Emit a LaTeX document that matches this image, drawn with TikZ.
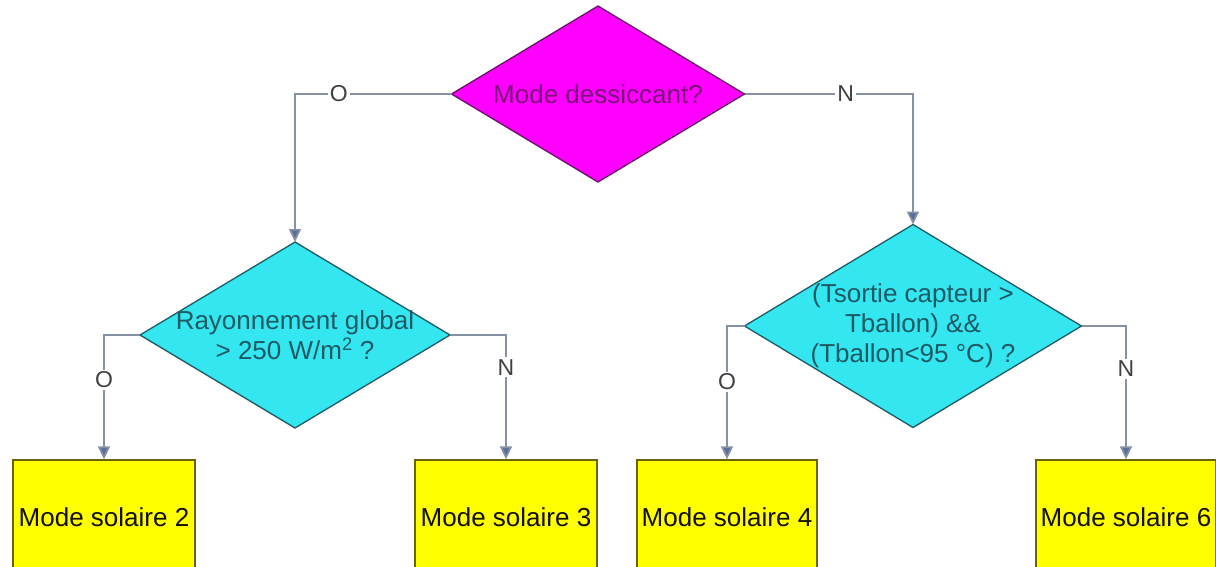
\documentclass[tikz,border=0pt]{standalone}
\usepackage{fontspec}
\setmainfont{Liberation Sans}
\usetikzlibrary{arrows.meta,positioning,shapes.geometric}
\definecolor{DecMag}{RGB}{255,0,255}
\definecolor{DecMagD}{RGB}{100,20,100}
\definecolor{DecCyan}{RGB}{51,230,240}
\definecolor{DecCyanD}{RGB}{30,90,100}
\definecolor{ModeYel}{RGB}{255,255,0}
\definecolor{ModeYelD}{RGB}{105,100,10}
\definecolor{FlowGray}{RGB}{135,145,165}
\definecolor{FlowTip}{RGB}{90,110,155}
\tikzset{
  dec/.style={diamond,draw,line width=1.3pt,inner sep=0pt,outer sep=0pt},
  decm/.style={dec,fill=DecMag,draw=DecMagD},
  decc/.style={dec,fill=DecCyan,draw=DecCyanD},
  dectext/.style={align=center,font=\fontsize{26}{30}\selectfont,inner sep=0pt},
  mode/.style={rectangle,draw=ModeYelD,fill=ModeYel,line width=1.3pt,
               minimum width=182pt,minimum height=114pt,inner sep=0pt,
               font=\fontsize{26}{30}\selectfont,text=black!85!ModeYelD},
  flow/.style={-{Triangle[length=13pt,width=12pt,fill=FlowTip]},
               draw=FlowGray,line width=1.7pt},
  lbl/.style={fill=white,inner sep=2pt,font=\fontsize{23}{26}\selectfont,
              text=black!75},
}
\begin{document}
\begin{tikzpicture}[x=1pt,y=-1pt]
  \useasboundingbox (0,0) rectangle (1216,566);
  % decisions
  \node[decm,minimum width=293pt,minimum height=176pt] (d0) at (598,94) {};
  \node[dectext,text=DecMagD!85!DecMag] (t0) at (d0) {Mode dessiccant?};
  \node[decc,minimum width=310pt,minimum height=186pt] (d1) at (295,335) {};
  \node[dectext,text=DecCyanD] (t1) at (d1) {Rayonnement global\\> 250 W/m\textsuperscript{2} ?};
  \node[decc,minimum width=337pt,minimum height=203pt] (d2) at (913,326) {};
  \node[dectext,text=DecCyanD] (t2) at (d2) {(Tsortie capteur >\\Tballon) \&\&\\(Tballon<95 °C) ?};
  % modes
  \node[mode] (b1) at (104,517) {Mode solaire 2};
  \node[mode] (b2) at (506,517) {Mode solaire 3};
  \node[mode,minimum width=180pt] (b3) at (727,517) {Mode solaire 4};
  \node[mode,minimum width=180pt] (b4) at (1126,517) {Mode solaire 6};
  % connectors
  \draw[flow] (d0.west) -| node[lbl,pos=0.36] {O} (d1.north);
  \draw[flow] (d0.east) -| node[lbl,pos=0.30] {N} (d2.north);
  \draw[flow] (d1.west) -| node[lbl,pos=0.68] {O} (b1.north);
  \draw[flow] (d1.east) -| node[lbl,pos=0.63] {N} (b2.north);
  \draw[flow] (d2.west) -| node[lbl,pos=0.71] {O} (b3.north);
  \draw[flow] (d2.east) -| node[lbl,pos=0.66] {N} (b4.north);
\end{tikzpicture}
\end{document}
